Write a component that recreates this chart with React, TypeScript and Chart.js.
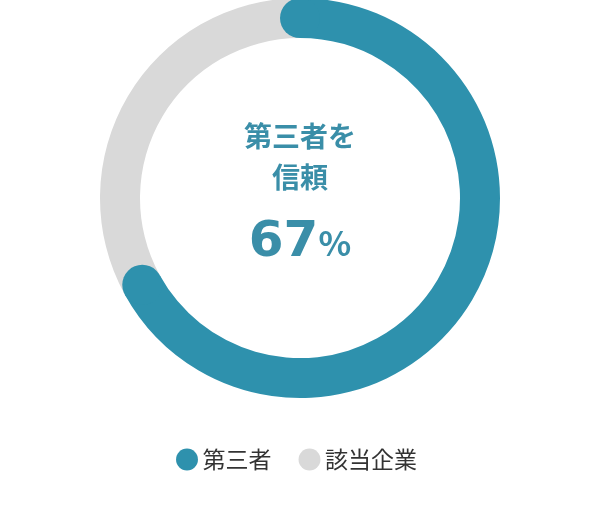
import React, { useRef, useEffect } from 'react';
import { Chart, registerables } from 'chart.js';

Chart.register(...registerables);

const labels = ['第三者', '該当企業'];
const values = [67, 33];
const colors = ['#2e91ad', '#d9d9d9'];
const centerLines = ['第三者を', '信頼'];
const centerValue = '67';

// round caps at both ends of the first slice
const roundCaps = {
  id: 'roundCaps',
  afterDatasetsDraw(chart: any) {
    const arc = chart.getDatasetMeta(0).data[0];
    if (!arc) return;
    const { x, y, startAngle, endAngle, innerRadius, outerRadius } = arc.getProps(
      ['x', 'y', 'startAngle', 'endAngle', 'innerRadius', 'outerRadius'],
      true
    );
    const mid = (innerRadius + outerRadius) / 2;
    const r = (outerRadius - innerRadius) / 2;
    const ctx = chart.ctx;
    ctx.save();
    ctx.fillStyle = colors[0];
    [startAngle, endAngle].forEach((a: number) => {
      ctx.beginPath();
      ctx.arc(x + mid * Math.cos(a), y + mid * Math.sin(a), r, 0, Math.PI * 2);
      ctx.fill();
    });
    ctx.restore();
  },
};

const App = () => {
  const chartRef = useRef<HTMLCanvasElement>(null);

  useEffect(() => {
    document.body.style.margin = '0';
    const chart = new Chart(chartRef.current!, {
      type: 'doughnut',
      data: {
        labels,
        datasets: [
          {
            data: values,
            backgroundColor: colors,
            borderWidth: 0,
            radius: 200,
            cutout: '80%',
          },
        ],
      },
      options: {
        responsive: false,
        animation: false,
        layout: { padding: { bottom: 29 } },
        plugins: {
          tooltip: { enabled: false },
          legend: {
            position: 'bottom',
            title: { display: true, text: '', font: { size: 14 }, padding: { top: 0, bottom: 1 } },
            labels: {
              usePointStyle: true,
              pointStyle: 'circle',
              boxWidth: 8,
              boxHeight: 15.5,
              padding: 34,
              color: '#333333',
              font: { size: 23, family: '"Noto Sans CJK JP", sans-serif' },
            },
          },
        },
      },
      plugins: [roundCaps],
    });

    return () => chart.destroy();
  }, []);

  const textColor = '#3a8ea8';
  const cjk = '"Noto Sans CJK JP", sans-serif';

  return (
    <div style={{ position: 'relative', width: 600, height: 510 }}>
      <canvas ref={chartRef} width="600" height="510"></canvas>
      {centerLines.map((line, i) => (
        <div
          key={i}
          style={{
            position: 'absolute',
            left: 0,
            width: 600,
            top: 115 + i * 41,
            height: 40,
            lineHeight: '40px',
            textAlign: 'center',
            fontFamily: cjk,
            fontWeight: 700,
            fontSize: 28,
            color: textColor,
          }}
        >
          {line}
        </div>
      ))}
      <div
        style={{
          position: 'absolute',
          left: 0,
          width: 600,
          top: 209,
          height: 60,
          lineHeight: '60px',
          textAlign: 'center',
          fontFamily: '"DejaVu Sans", sans-serif',
          fontWeight: 700,
          color: textColor,
        }}
      >
        <span style={{ fontSize: 50 }}>{centerValue}</span>
        <span style={{ fontSize: 34, fontFamily: cjk, fontWeight: 700 }}>%</span>
      </div>
    </div>
  );
};

export default App;
